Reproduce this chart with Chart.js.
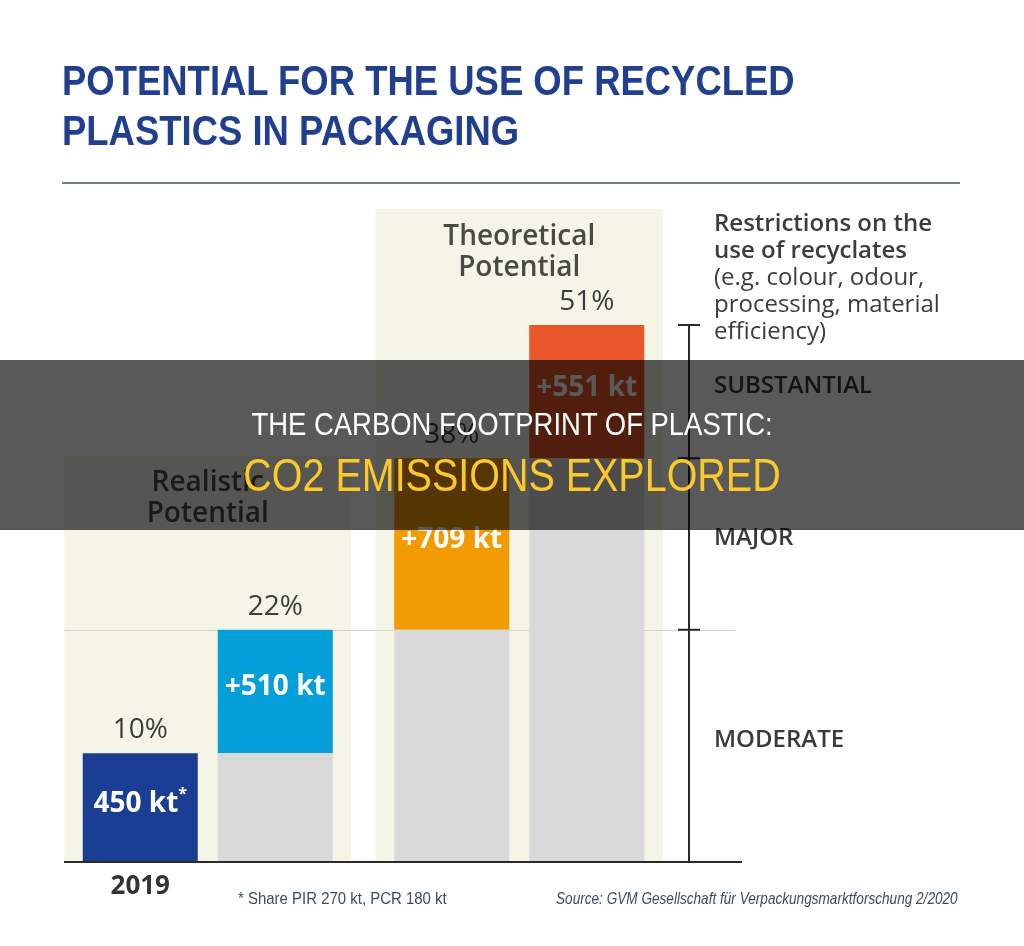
<!DOCTYPE html>
<html>
<head>
<meta charset="utf-8">
<script src="https://cdn.jsdelivr.net/npm/chart.js@4"></script>
<style>
  body { margin: 0; background: #fff; }
  #page { position: relative; width: 1024px; height: 946px; overflow: hidden; background: #fff; }
  #chart { position: absolute; left: 0; top: 0; }
  .title { position: absolute; left: 62px; top: 55px; font: bold 43px 'Liberation Sans', Arial, sans-serif; color: #203f8e; line-height: 50px; white-space: nowrap; transform: scaleX(0.848); transform-origin: left top; }
  .rule { position: absolute; left: 62px; top: 182px; width: 898px; height: 2px; background: #6d7f99; }
  .note { position: absolute; left: 714px; top: 208px; font: 24px 'Open Sans', sans-serif; color: #3c3c3c; line-height: 27px; }
  .note b { font-weight: 600; }
  .foot { position: absolute; top: 889px; font: 17px 'Liberation Sans', sans-serif; color: #3d4b62; white-space: nowrap; transform-origin: left top; }
  .band { position: absolute; left: 0; top: 360px; width: 1024px; height: 170px; background: rgba(0,0,0,0.65); }
  .band div { position: absolute; left: 0; right: 0; text-align: center; white-space: nowrap; transform: scaleX(0.858); transform-origin: center top; }
  .band .l1 { top: 46px; font: 32px 'Liberation Sans', sans-serif; color: #fff; }
  .band .l2 { top: 88px; font: 46px 'Liberation Sans', sans-serif; color: #fcc82a; }
</style>
</head>
<body>
<div id="page">
  <canvas id="chart" width="1024" height="946"></canvas>
  <div class="title">POTENTIAL FOR THE USE OF RECYCLED<br>PLASTICS IN PACKAGING</div>
  <div class="rule"></div>
  <div class="note"><b>Restrictions on the<br>use of recyclates</b><br>(e.g. colour, odour,<br>processing, material<br>efficiency)</div>
  <div class="foot" style="left:238px; transform:scaleX(0.88)">* Share PIR 270 kt, PCR 180 kt</div>
  <div class="foot" style="left:556px; font-style:italic; transform:scaleX(0.8)">Source: GVM Gesellschaft für Verpackungsmarktforschung 2/2020</div>
  <div class="band">
    <div class="l1">THE CARBON FOOTPRINT OF PLASTIC:</div>
    <div class="l2">CO2 EMISSIONS EXPLORED</div>
  </div>
</div>
<script>
// two panels, two bars in each
var categories = ['Realistic Potential', 'Theoretical Potential'];
// bars from left to right (kt)
var existingKt = [0, 450, 960, 1669];
var addedKt = [450, 510, 709, 551];
var shareLabels = ['10%', '22%', '38%', '51%'];
var addedLabels = ['450 kt*', '+510 kt', '+709 kt', '+551 kt'];
var barYears = ['2019', '', '', ''];
var addedColors = ['#1b3e95', '#049fd8', '#f29b00', '#e8562a'];
var levelNames = ['MODERATE', 'MAJOR', 'SUBSTANTIAL'];
var levelBreaks = [0, 960, 1669, 2220];

var grey = '#d9d9d9';

function pick(arr, idx) { return idx.map(function (i) { return arr[i]; }); }

// draws "450 kt*" with a small raised asterisk
function segLabel(ctx, text, x, y) {
  var star = text.slice(-1) === '*';
  var main = star ? text.slice(0, -1) : text;
  ctx.font = "bold 28px 'Open Sans', sans-serif";
  if (!star) { ctx.fillText(main, x, y); return; }
  var w = ctx.measureText(main).width;
  ctx.font = "bold 16px 'Open Sans', sans-serif";
  var sw = ctx.measureText('*').width;
  var left = x - (w + sw) / 2;
  ctx.textAlign = 'left';
  ctx.fillText('*', left + w, y - 9);
  ctx.font = "bold 28px 'Open Sans', sans-serif";
  ctx.fillText(main, left, y);
  ctx.textAlign = 'center';
}

var backdrop = {
  id: 'backdrop',
  beforeDatasetsDraw: function (chart) {
    var ctx = chart.ctx, x = chart.scales.x, y = chart.scales.y, area = chart.chartArea;
    var panelW = 287;
    var tops = [y.getPixelForValue(existingKt[3]) - 3, area.top];
    ctx.save();
    categories.forEach(function (name, i) {
      var cx = x.getPixelForValue(i);
      ctx.fillStyle = '#f4f5e7';
      ctx.fillRect(cx - panelW / 2, tops[i], panelW, area.bottom - tops[i]);
      ctx.fillStyle = '#4a4a44';
      ctx.font = "600 28px 'Open Sans', sans-serif";
      ctx.textAlign = 'center';
      ctx.textBaseline = 'middle';
      var words = name.split(' ');
      ctx.fillText(words[0], cx, tops[i] + 28);
      ctx.fillText(words[1], cx, tops[i] + 59);
    });
    // faint line at the realistic level
    var ly = Math.round(y.getPixelForValue(levelBreaks[1])) + 0.5;
    ctx.strokeStyle = '#d4d4cc';
    ctx.lineWidth = 1;
    ctx.beginPath();
    ctx.moveTo(area.left + 12, ly);
    ctx.lineTo(area.right + 60, ly);
    ctx.stroke();
    ctx.restore();
  },
  afterDatasetsDraw: function (chart) {
    var ctx = chart.ctx, y = chart.scales.y, area = chart.chartArea;
    ctx.save();
    ctx.textAlign = 'center';
    ctx.textBaseline = 'middle';
    // labels on the added segments (datasets 1 and 3)
    [1, 3].forEach(function (di, s) {
      var meta = chart.getDatasetMeta(di);
      meta.data.forEach(function (el, c) {
        var bar = c * 2 + s;
        ctx.fillStyle = '#ffffff';
        segLabel(ctx, addedLabels[bar], el.x, (el.y + el.base) / 2 - 4);
        ctx.fillStyle = '#3c3c3c';
        ctx.font = "28px 'Open Sans', sans-serif";
        ctx.fillText(shareLabels[bar], el.x, el.y - 23);
        if (barYears[bar]) {
          ctx.fillStyle = '#333333';
          ctx.font = "bold 26px 'Open Sans', sans-serif";
          ctx.fillText(barYears[bar], el.x, area.bottom + 25);
        }
      });
    });
    // baseline
    ctx.strokeStyle = '#2a2a2a';
    ctx.lineWidth = 2;
    ctx.beginPath();
    ctx.moveTo(area.left + 12, area.bottom);
    ctx.lineTo(area.right + 67, area.bottom);
    ctx.stroke();
    // restriction scale
    var ax = area.right + 14;
    ctx.beginPath();
    ctx.moveTo(ax, y.getPixelForValue(levelBreaks[3]));
    ctx.lineTo(ax, area.bottom);
    levelBreaks.slice(1).forEach(function (v) {
      var ty = y.getPixelForValue(v);
      ctx.moveTo(ax - 11, ty);
      ctx.lineTo(ax + 11, ty);
    });
    ctx.stroke();
    ctx.textAlign = 'left';
    ctx.fillStyle = '#3a3a3a';
    ctx.font = "600 24px 'Open Sans', sans-serif";
    levelNames.forEach(function (name, i) {
      var mid = (y.getPixelForValue(levelBreaks[i]) + y.getPixelForValue(levelBreaks[i + 1])) / 2;
      ctx.fillText(name, ax + 25, mid - 6);
    });
    ctx.restore();
  }
};

var ctx = document.getElementById('chart');

var myChart = new Chart(ctx, {
  type: 'bar',
  data: {
    labels: categories,
    datasets: [
      { label: 'existing', stack: 'left', data: pick(existingKt, [0, 2]), backgroundColor: grey },
      { label: 'added', stack: 'left', data: pick(addedKt, [0, 2]), backgroundColor: pick(addedColors, [0, 2]) },
      { label: 'existing', stack: 'right', data: pick(existingKt, [1, 3]), backgroundColor: grey },
      { label: 'added', stack: 'right', data: pick(addedKt, [1, 3]), backgroundColor: pick(addedColors, [1, 3]) }
    ]
  },
  options: {
    responsive: false,
    animation: false,
    categoryPercentage: 0.8668,
    barPercentage: 0.852,
    layout: { padding: { left: 52, right: 349, top: 209, bottom: 84 } },
    plugins: { legend: { display: false }, tooltip: { enabled: false } },
    scales: {
      x: { display: false, stacked: true },
      y: { display: false, stacked: true, min: 0, max: 2700 }
    }
  },
  plugins: [backdrop]
});
</script>
</body>
</html>
